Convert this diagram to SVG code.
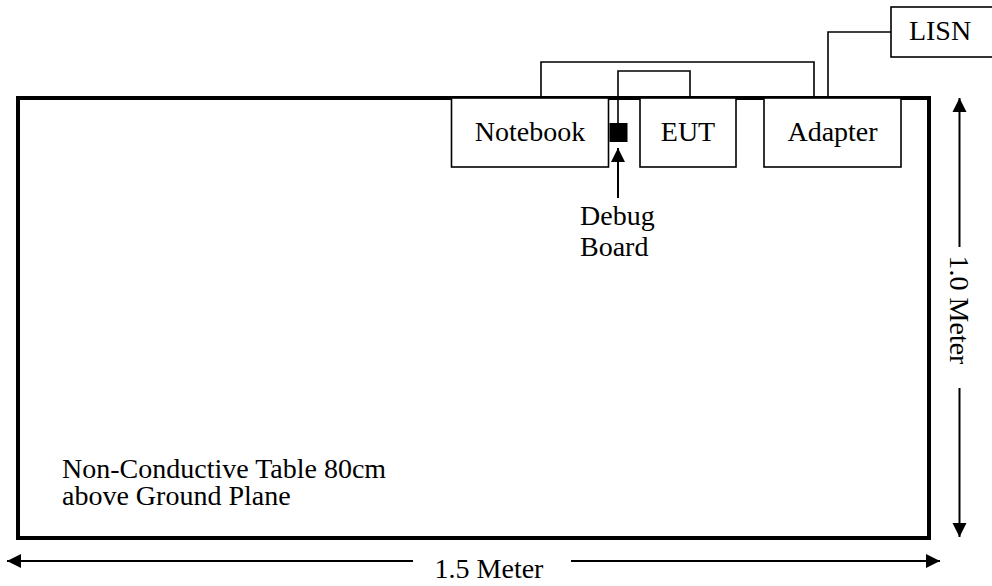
<svg xmlns="http://www.w3.org/2000/svg" width="992" height="586" viewBox="0 0 992 586">
<style>
text{font-family:"Liberation Serif","Times New Roman",serif;font-size:28px;fill:#000}
.box{fill:#fff;stroke:#000;stroke-width:1.6}
.wire{fill:none;stroke:#000;stroke-width:1.6}
.dim{fill:none;stroke:#000;stroke-width:2}
.c{text-anchor:middle}
</style>
<defs>
<marker id="ah" markerUnits="userSpaceOnUse" markerWidth="16" markerHeight="16" viewBox="0 0 16 16" refX="15" refY="8" orient="auto">
<path d="M1,1 L15,8 L1,15 Z" fill="#000"/>
</marker>
</defs>
<g id="table">
<rect x="18" y="98" width="911" height="440" fill="#fff" stroke="#000" stroke-width="4"/>
<text x="62" y="478">Non-Conductive Table 80cm</text>
<text x="62" y="505">above Ground Plane</text>
</g>
<g id="connectors">
<polyline class="wire" points="541,98 541,62 814,62 814,98"/>
<polyline class="wire" points="618,123 618,71 690,71 690,98"/>
<polyline class="wire" points="828,98 828,32 891,32"/>
<line class="dim" x1="618" y1="198" x2="618" y2="148" marker-end="url(#ah)"/>
<line class="dim" x1="959.5" y1="247" x2="959.5" y2="98" marker-end="url(#ah)"/>
<line class="dim" x1="959.5" y1="388" x2="959.5" y2="537" marker-end="url(#ah)"/>
<line class="dim" x1="413" y1="561" x2="7" y2="561" marker-end="url(#ah)"/>
<line class="dim" x1="571" y1="561" x2="940" y2="561" marker-end="url(#ah)"/>
</g>
<g id="notebook">
<rect class="box" x="451.5" y="98" width="157" height="69"/>
<text class="c" x="530" y="141">Notebook</text>
</g>
<g id="eut">
<rect class="box" x="640" y="98" width="96" height="69"/>
<text class="c" x="688" y="141">EUT</text>
</g>
<g id="adapter">
<rect class="box" x="764" y="98" width="137" height="69"/>
<text class="c" x="832.5" y="141">Adapter</text>
</g>
<g id="lisn">
<rect class="box" x="891" y="7" width="110" height="50"/>
<text class="c" x="940" y="40">LISN</text>
</g>
<g id="debug-board">
<rect x="609.5" y="123" width="18" height="19" fill="#000"/>
<text x="580" y="225">Debug</text>
<text x="580" y="256">Board</text>
</g>
<g id="dim-labels">
<text class="c" x="489" y="578">1.5 Meter</text>
<text class="c" transform="translate(950,310) rotate(90)">1.0 Meter</text>
</g>
</svg>
